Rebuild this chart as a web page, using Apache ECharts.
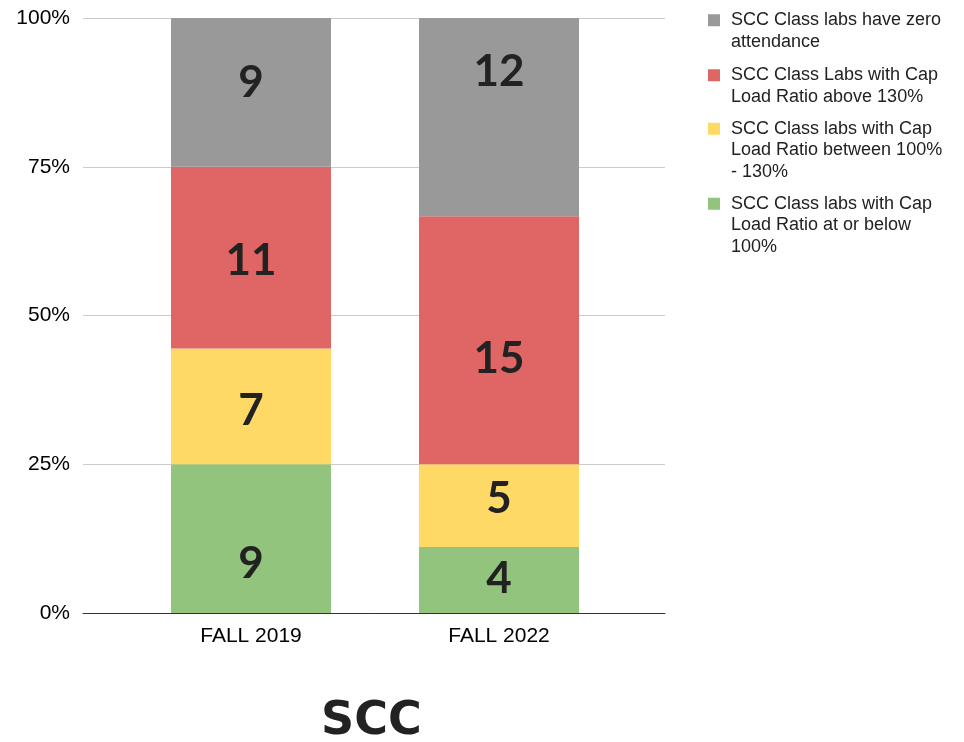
<!DOCTYPE html>
<html>
<head>
<meta charset="utf-8">
<script src="https://cdn.jsdelivr.net/npm/echarts@6/dist/echarts.min.js"></script>
<style>
html,body{margin:0;padding:0;background:#fff;}
#chart{width:964px;height:742px;}
</style>
</head>
<body>
<div id="chart"></div>
<script>
// ---- data ----
var categories = ['FALL 2019', 'FALL 2022'];
var seriesNames = [
  'SCC Class labs with Cap Load Ratio at or below 100%',
  'SCC Class labs with Cap Load Ratio between 100% - 130%',
  'SCC Class Labs with Cap Load Ratio above 130%',
  'SCC Class labs have zero attendance'
];
var legendText = [
  'SCC Class labs with Cap\nLoad Ratio at or below\n100%',
  'SCC Class labs with Cap\nLoad Ratio between 100%\n- 130%',
  'SCC Class Labs with Cap\nLoad Ratio above 130%',
  'SCC Class labs have zero\nattendance'
];
var atOrBelow100 = [9, 4];
var between100and130 = [7, 5];
var above130 = [11, 15];
var zeroAttendance = [9, 12];
var yTicks = [0, 25, 50, 75, 100];

// ---- styles ----
var colors = ['#93c47d', '#ffd966', '#e06666', '#999999'];
// vertical nudges of the value labels (px), as placed in the reference
var labelNudges = [[24, -2], [3, -8], [2, 18], [-11, -46]];

var counts = [atOrBelow100, between100and130, above130, zeroAttendance];
var totals = categories.map(function (c, i) {
  return counts.reduce(function (s, arr) { return s + arr[i]; }, 0);
});

var series = counts.map(function (arr, k) {
  return {
    name: seriesNames[k],
    type: 'bar',
    stack: 'total',
    xAxisIndex: 1,
    yAxisIndex: 1,
    barWidth: 160,
    itemStyle: { color: colors[k] },
    data: arr.map(function (v, i) {
      return {
        value: v / totals[i] * 100,
        count: v,
        label: { offset: [0, labelNudges[k][i] + 1] }
      };
    }),
    label: {
      show: true,
      position: 'inside',
      fontFamily: 'Lato',
      fontWeight: 'bold',
      fontSize: 44,
      color: '#222',
      formatter: function (p) { return String(p.data.count); }
    }
  };
});

// legend: one component per item (gray, red, yellow, green), icon beside first line
var legendOrder = [3, 2, 1, 0];
var legendTops = [-12, 43, 75, 150];
var legends = legendOrder.map(function (k, j) {
  var lines = legendText[k].split('\n').length;
  var pre = new Array(lines).join('\n');
  return {
    data: [seriesNames[k]],
    orient: 'vertical',
    left: 708,
    top: legendTops[j],
    padding: 0,
    icon: 'rect',
    itemWidth: 12,
    itemHeight: 12,
    selectedMode: false,
    formatter: function () { return pre + legendText[k]; },
    textStyle: {
      fontFamily: 'Liberation Sans',
      fontSize: 18,
      lineHeight: 21.5,
      color: '#222',
      padding: [0, 0, 0, 6]
    }
  };
});

var chart = echarts.init(document.getElementById('chart'), null, { renderer: 'canvas' });
chart.setOption({
  animation: false,
  backgroundColor: '#fff',
  title: {
    text: 'SCC',
    left: 321,
    top: 699,
    padding: 0,
    textStyle: { fontFamily: 'DejaVu Sans', fontWeight: 'bold', fontSize: 46, lineHeight: 46, color: '#222' }
  },
  legend: legends,
  grid: [
    { left: 83, right: 299, top: 18, bottom: 129, containLabel: false },
    { left: 127, right: 341, top: 18, bottom: 129, containLabel: false }
  ],
  xAxis: [
    {
      gridIndex: 0,
      type: 'category',
      data: categories,
      axisLine: { show: true, lineStyle: { color: '#333', width: 1 } },
      axisTick: { show: false },
      axisLabel: { show: false },
      splitLine: { show: false }
    },
    {
      gridIndex: 1,
      type: 'category',
      data: categories,
      axisLine: { show: false },
      axisTick: { show: false },
      axisLabel: { fontFamily: 'Liberation Sans', fontSize: 21, color: '#000', margin: 13 }
    }
  ],
  yAxis: [
    {
      gridIndex: 0,
      type: 'value',
      min: yTicks[0],
      max: yTicks[yTicks.length - 1],
      interval: yTicks[1] - yTicks[0],
      axisLine: { show: false },
      axisTick: { show: false },
      splitLine: { lineStyle: { color: '#cccccc', width: 1 } },
      axisLabel: { fontFamily: 'Liberation Sans', fontSize: 21, color: '#000', margin: 13, formatter: '{value}%' }
    },
    {
      gridIndex: 1,
      type: 'value',
      min: yTicks[0],
      max: yTicks[yTicks.length - 1],
      interval: yTicks[1] - yTicks[0],
      show: false,
      splitLine: { show: false }
    }
  ],
  series: series
});
</script>
</body>
</html>
